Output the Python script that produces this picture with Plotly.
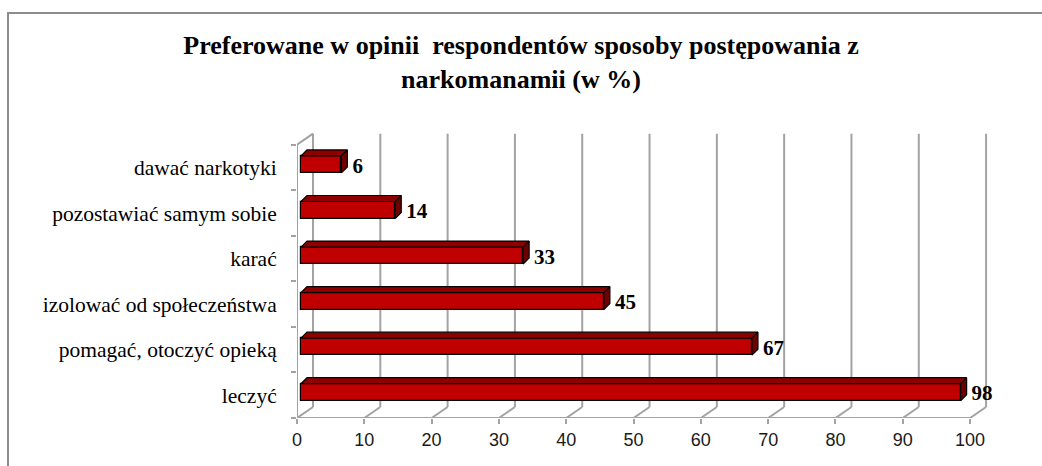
import plotly.graph_objects as go

# ---- data (bottom to top) ----
categories = ["leczyć", "pomagać, otoczyć opieką", "izolować od społeczeństwa",
              "karać", "pozostawiać samym sobie", "dawać narkotyki"]
values = [98, 67, 45, 33, 14, 6]
x_ticks = [0, 10, 20, 30, 40, 50, 60, 70, 80, 90, 100]
title_text = "Preferowane w opinii  respondentów sposoby postępowania z<br>narkomanamii (w %)"

# ---- layout constants ----
W, H = 1042, 466
ML, MB, MT = 297, 48, 131
XMAX = 104.0
YMAX = 6.3
MR = 45
PXU = (W - ML - MR) / XMAX          # px per x unit
PYU = (H - MT - MB) / YMAX          # px per y unit
N = len(categories)

WDX, WDY = 16, 11     # wall depth offset in px
BOX, BOY = 4, 3       # bar front-face offset in px
BDX, BDY = 6, 6       # bar depth in px
BH = 17               # bar front-face height in px

GRID = "#A3A3A3"

fig = go.Figure()

# front faces
centers = [i + 0.5 for i in range(N)]
x0 = BOX / PXU
fig.add_trace(go.Bar(
    orientation="h",
    y=[c + BOY / PYU for c in centers],
    x=values,
    base=x0,
    width=BH / PYU,
    marker=dict(color="#C00000", line=dict(color="black", width=1.2)),
    hoverinfo="skip", showlegend=False,
))

# top and right faces
top_x, top_y, side_x, side_y = [], [], [], []
for c, v in zip(centers, values):
    yb = c + BOY / PYU - BH / PYU / 2
    yt = c + BOY / PYU + BH / PYU / 2
    x1 = x0 + v
    dx, dy = BDX / PXU, BDY / PYU
    top_x += [x0, x0 + dx, x1 + dx, x1, x0, None]
    top_y += [yt, yt + dy, yt + dy, yt, yt, None]
    side_x += [x1, x1, x1 + dx, x1 + dx, x1, None]
    side_y += [yb, yt, yt + dy, yb + dy, yb, None]

fig.add_trace(go.Scatter(x=top_x, y=top_y, mode="lines", fill="toself",
                         fillcolor="#8E0000", line=dict(color="black", width=1.2),
                         hoverinfo="skip", showlegend=False))
fig.add_trace(go.Scatter(x=side_x, y=side_y, mode="lines", fill="toself",
                         fillcolor="#6E0000", line=dict(color="black", width=1.2),
                         hoverinfo="skip", showlegend=False))

# value labels
fig.add_trace(go.Scatter(
    x=[x0 + v + (BDX + 5) / PXU for v in values],
    y=centers,
    text=[str(v) for v in values],
    mode="text", textposition="middle right",
    textfont=dict(family="Liberation Serif", size=21, color="black", weight="bold"),
    cliponaxis=False, hoverinfo="skip", showlegend=False,
))

# invisible trace for label axis
fig.add_trace(go.Scatter(x=[0], y=[0], yaxis="y2", mode="markers",
                         marker=dict(opacity=0), hoverinfo="skip", showlegend=False))

# walls / gridlines as shapes
shapes = []
wdx, wdy = WDX / PXU, WDY / PYU
for t in x_ticks:
    shapes.append(dict(type="line", xref="x", yref="y", x0=t + wdx, y0=wdy, x1=t + wdx, y1=N + wdy,
                       line=dict(color=GRID, width=2), layer="below"))
    shapes.append(dict(type="line", xref="x", yref="y", x0=t, y0=0, x1=t + wdx, y1=wdy,
                       line=dict(color=GRID, width=2), layer="below"))
shapes.append(dict(type="line", xref="x", yref="y", x0=0, y0=N, x1=wdx, y1=N + wdy,
                   line=dict(color=GRID, width=2), layer="below"))
shapes.append(dict(type="line", xref="x", yref="y", x0=0, y0=0, x1=0, y1=N,
                   line=dict(color=GRID, width=2), layer="below"))
shapes.append(dict(type="line", xref="x", yref="y", x0=0, y0=0, x1=x_ticks[-1], y1=0,
                   line=dict(color=GRID, width=2), layer="below"))
# chart border
PW, PH = W - ML - MR, H - MT - MB
shapes.append(dict(type="rect", xref="paper", yref="paper",
                   x0=(8 - ML) / PW, x1=(W + 10 - ML) / PW,
                   y0=-(MB + 10) / PH,
                   y1=(H - MB - 13) / PH,
                   line=dict(color="#8C8C8C", width=2), fillcolor="rgba(0,0,0,0)", layer="below"))

fig.update_layout(
    width=W, height=H,
    margin=dict(l=ML, r=MR, t=MT, b=MB, pad=0),
    paper_bgcolor="white", plot_bgcolor="white",
    shapes=shapes,
    bargap=0,
    title=dict(text=title_text, x=0.5, xref="container", xanchor="center",
               y=1 - 54 / H, yref="container", yanchor="top",
               font=dict(family="Liberation Serif", size=26, color="black", weight="bold")),
    xaxis=dict(range=[0, XMAX], tickvals=x_ticks, ticktext=[str(t) for t in x_ticks],
               showgrid=False, zeroline=False, showline=False,
               ticks="outside", ticklen=5, tickwidth=1.5, tickcolor=GRID,
               tickfont=dict(family="Liberation Sans", size=18, color="#1a1a1a")),
    yaxis=dict(range=[0, YMAX], tickvals=list(range(N + 1)), showticklabels=False,
               showgrid=False, zeroline=False, showline=False,
               ticks="outside", ticklen=5, tickwidth=1.5, tickcolor=GRID),
    yaxis2=dict(range=[0, YMAX], overlaying="y", side="left",
                tickvals=centers, ticktext=categories,
                showgrid=False, zeroline=False, showline=False,
                ticks="outside", ticklen=15, tickcolor="rgba(0,0,0,0)",
                tickfont=dict(family="Liberation Serif", size=21.5, color="black")),
)

fig.write_html("out.html", config={"displayModeBar": False},
               post_script="document.body.style.margin='0';")
